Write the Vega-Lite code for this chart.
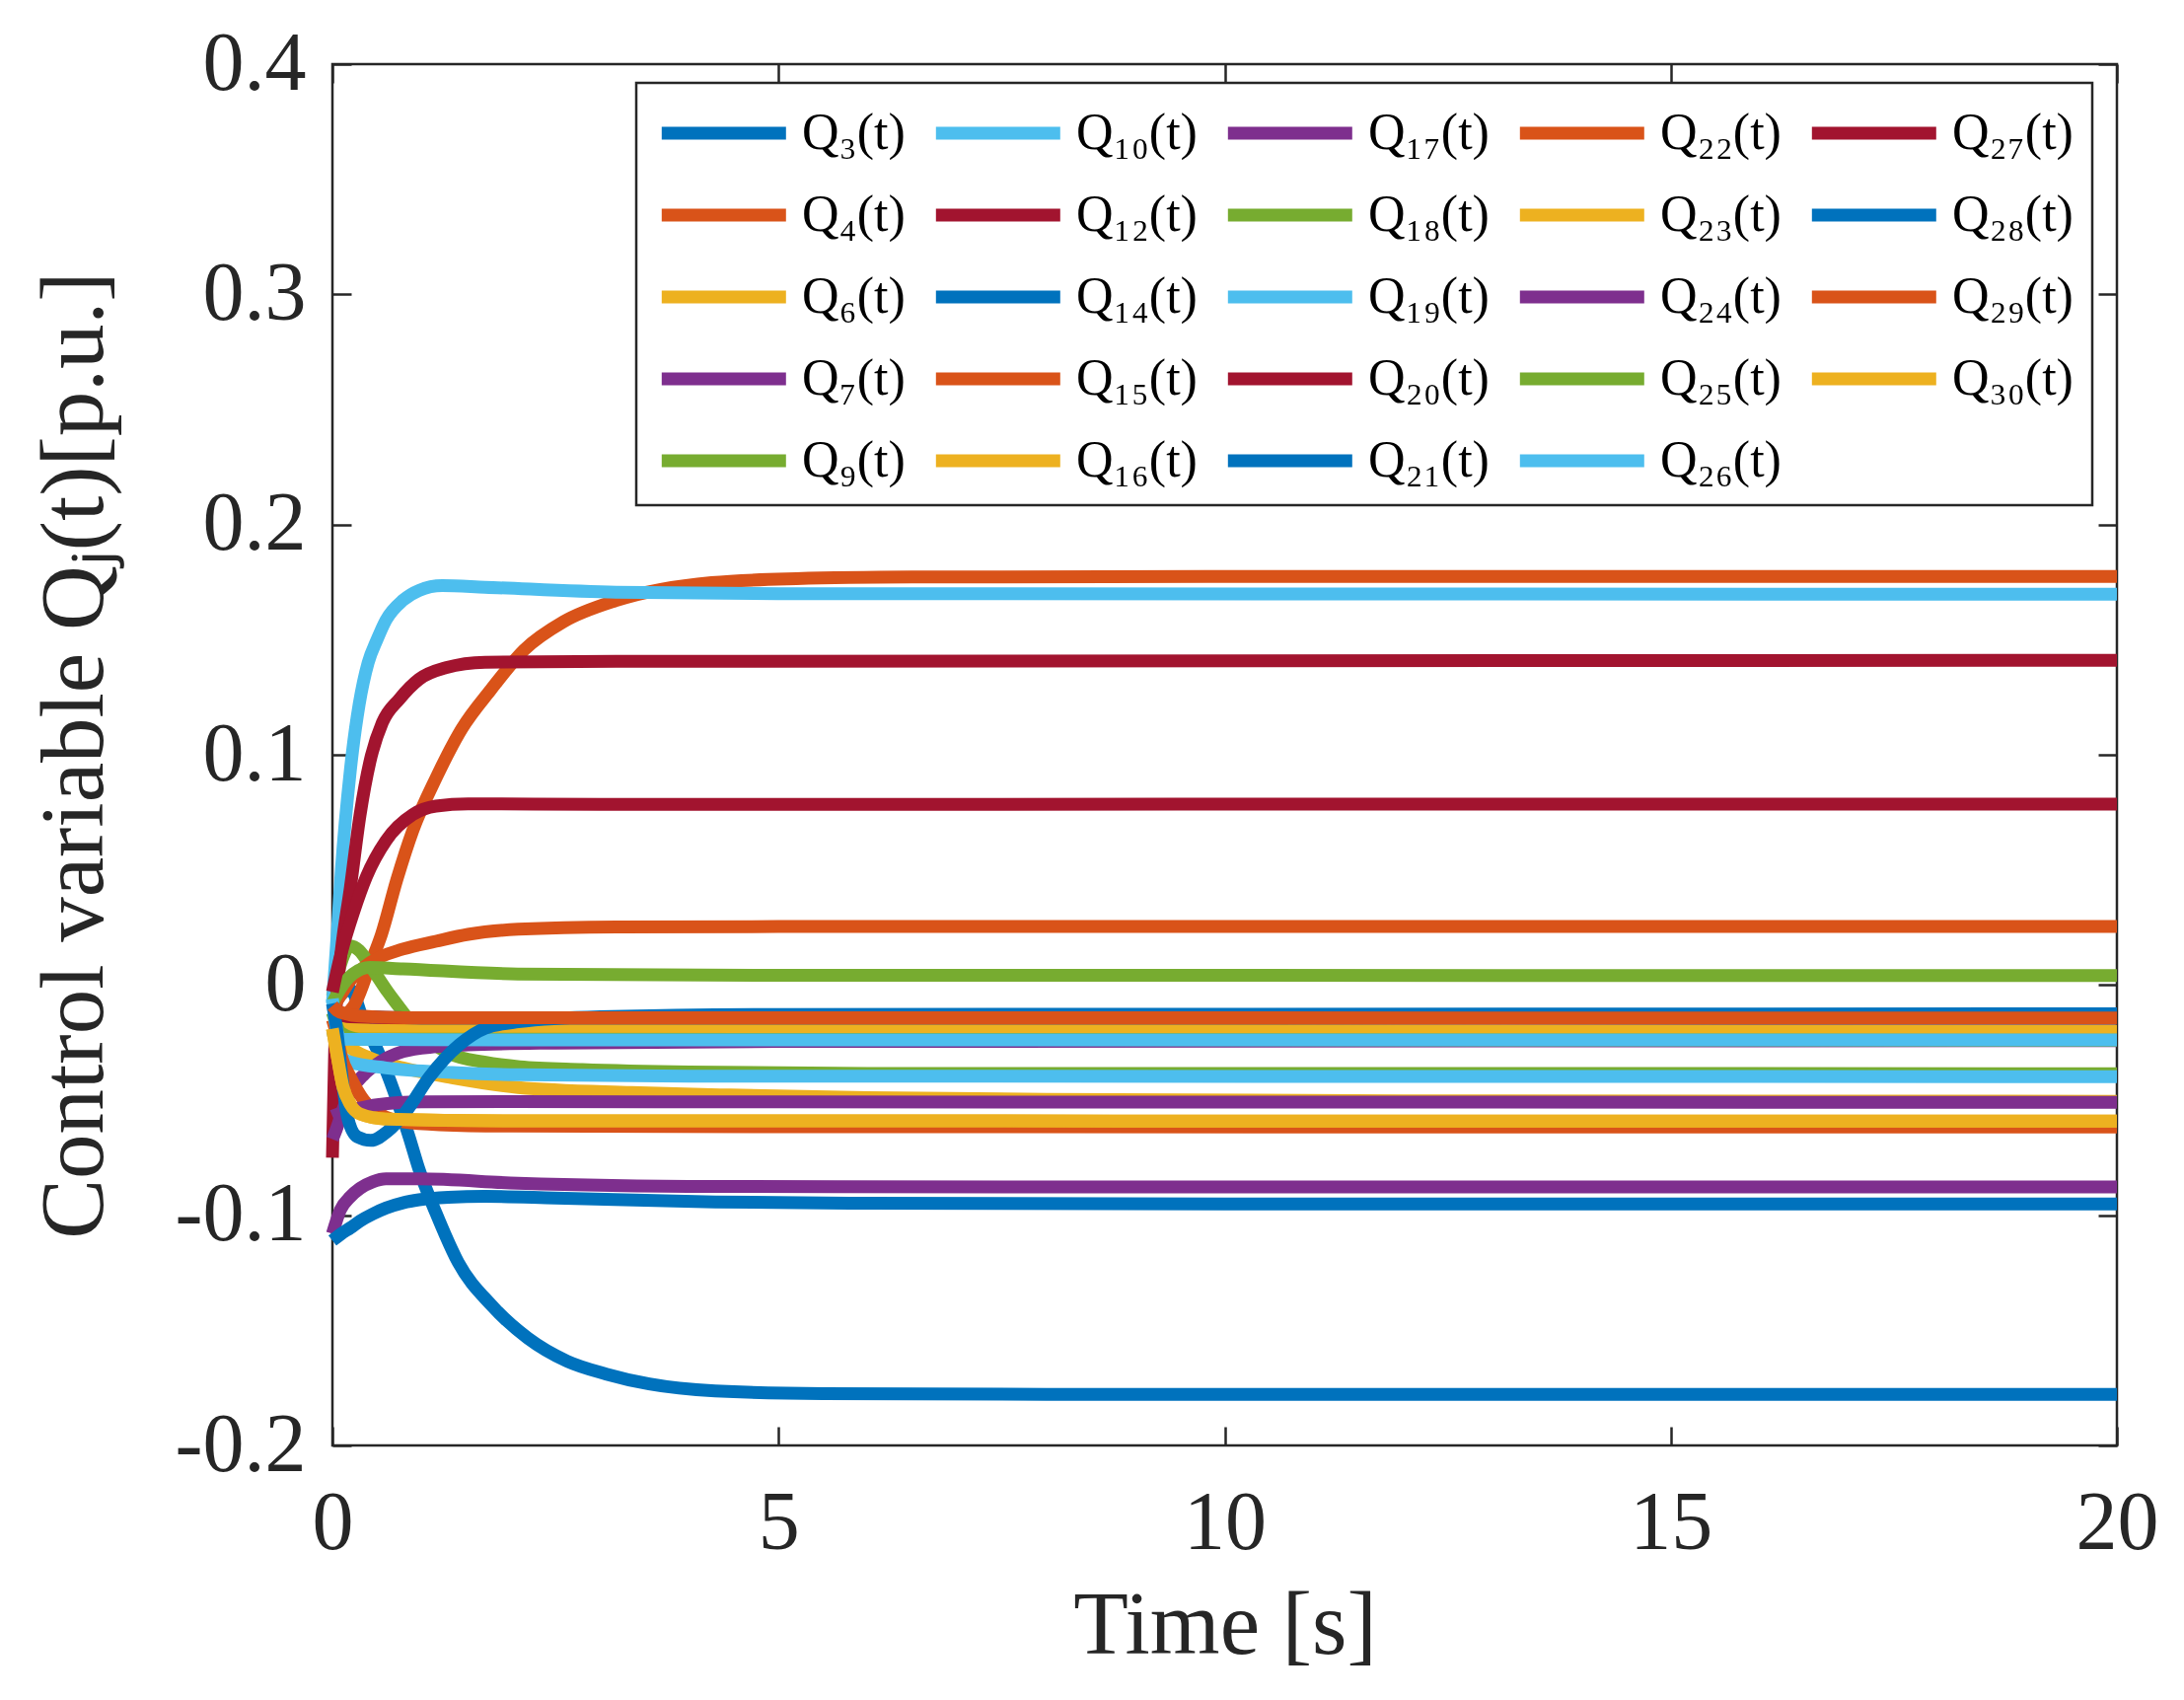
{
  "$schema": "https://vega.github.io/schema/vega-lite/v6.json",
  "width": 1809,
  "height": 1400,
  "autosize": {"type": "none"},
  "padding": {"left": 337, "top": 65, "right": 68, "bottom": 258},
  "background": "white",
  "data": {"values": [
    {"s":"Q₃(t)","t":0,"v":-0.01},{"s":"Q₃(t)","t":0.1,"v":-0.004},{"s":"Q₃(t)","t":0.2,"v":-0.002},{"s":"Q₃(t)","t":0.35,"v":-0.016},{"s":"Q₃(t)","t":0.5,"v":-0.028},{"s":"Q₃(t)","t":0.62,"v":-0.039},{"s":"Q₃(t)","t":0.75,"v":-0.053},{"s":"Q₃(t)","t":0.86,"v":-0.066},{"s":"Q₃(t)","t":0.97,"v":-0.08},{"s":"Q₃(t)","t":1.16,"v":-0.099},{"s":"Q₃(t)","t":1.41,"v":-0.1205},{"s":"Q₃(t)","t":1.78,"v":-0.139},{"s":"Q₃(t)","t":2.19,"v":-0.1534},{"s":"Q₃(t)","t":2.63,"v":-0.1634},{"s":"Q₃(t)","t":3.07,"v":-0.169},{"s":"Q₃(t)","t":3.55,"v":-0.1733},{"s":"Q₃(t)","t":4.29,"v":-0.1763},{"s":"Q₃(t)","t":5.5,"v":-0.1775},{"s":"Q₃(t)","t":8,"v":-0.1778},{"s":"Q₃(t)","t":20,"v":-0.1778},
    {"s":"Q₄(t)","t":0,"v":-0.012},{"s":"Q₄(t)","t":0.12,"v":-0.013},{"s":"Q₄(t)","t":0.24,"v":-0.009},{"s":"Q₄(t)","t":0.43,"v":0.0096},{"s":"Q₄(t)","t":0.55,"v":0.022},{"s":"Q₄(t)","t":0.72,"v":0.0455},{"s":"Q₄(t)","t":0.9,"v":0.067},{"s":"Q₄(t)","t":1.16,"v":0.0898},{"s":"Q₄(t)","t":1.45,"v":0.1113},{"s":"Q₄(t)","t":1.78,"v":0.1285},{"s":"Q₄(t)","t":2.15,"v":0.1456},{"s":"Q₄(t)","t":2.59,"v":0.1578},{"s":"Q₄(t)","t":3.18,"v":0.167},{"s":"Q₄(t)","t":4.25,"v":0.1748},{"s":"Q₄(t)","t":5.2,"v":0.1765},{"s":"Q₄(t)","t":6.5,"v":0.1772},{"s":"Q₄(t)","t":10,"v":0.1775},{"s":"Q₄(t)","t":20,"v":0.1775},
    {"s":"Q₆(t)","t":0,"v":-0.019},{"s":"Q₆(t)","t":0.05,"v":-0.021},{"s":"Q₆(t)","t":0.12,"v":-0.0246},{"s":"Q₆(t)","t":0.25,"v":-0.0285},{"s":"Q₆(t)","t":0.42,"v":-0.0317},{"s":"Q₆(t)","t":0.79,"v":-0.036},{"s":"Q₆(t)","t":1.34,"v":-0.0403},{"s":"Q₆(t)","t":2.08,"v":-0.0445},{"s":"Q₆(t)","t":3.35,"v":-0.0467},{"s":"Q₆(t)","t":4.46,"v":-0.0478},{"s":"Q₆(t)","t":6,"v":-0.0489},{"s":"Q₆(t)","t":8,"v":-0.0497},{"s":"Q₆(t)","t":12,"v":-0.0503},{"s":"Q₆(t)","t":20,"v":-0.0505},
    {"s":"Q₇(t)","t":0,"v":-0.108},{"s":"Q₇(t)","t":0.09,"v":-0.0976},{"s":"Q₇(t)","t":0.2,"v":-0.092},{"s":"Q₇(t)","t":0.31,"v":-0.0883},{"s":"Q₇(t)","t":0.45,"v":-0.0855},{"s":"Q₇(t)","t":0.6,"v":-0.0842},{"s":"Q₇(t)","t":0.97,"v":-0.0842},{"s":"Q₇(t)","t":2.08,"v":-0.0861},{"s":"Q₇(t)","t":4.29,"v":-0.0875},{"s":"Q₇(t)","t":8,"v":-0.0877},{"s":"Q₇(t)","t":20,"v":-0.0877},
    {"s":"Q₉(t)","t":0,"v":-0.005},{"s":"Q₉(t)","t":0.1,"v":0.01},{"s":"Q₉(t)","t":0.2,"v":0.017},{"s":"Q₉(t)","t":0.3,"v":0.015},{"s":"Q₉(t)","t":0.43,"v":0.008},{"s":"Q₉(t)","t":0.62,"v":-0.003},{"s":"Q₉(t)","t":0.76,"v":-0.0102},{"s":"Q₉(t)","t":0.97,"v":-0.0203},{"s":"Q₉(t)","t":1.3,"v":-0.0295},{"s":"Q₉(t)","t":1.7,"v":-0.0335},{"s":"Q₉(t)","t":2.1,"v":-0.0355},{"s":"Q₉(t)","t":2.8,"v":-0.0367},{"s":"Q₉(t)","t":4,"v":-0.0378},{"s":"Q₉(t)","t":6,"v":-0.0384},{"s":"Q₉(t)","t":20,"v":-0.0385},
    {"s":"Q₁₀(t)","t":0,"v":-0.008},{"s":"Q₁₀(t)","t":0.05,"v":0.02},{"s":"Q₁₀(t)","t":0.1,"v":0.05},{"s":"Q₁₀(t)","t":0.2,"v":0.093},{"s":"Q₁₀(t)","t":0.3,"v":0.122},{"s":"Q₁₀(t)","t":0.4,"v":0.14},{"s":"Q₁₀(t)","t":0.5,"v":0.15},{"s":"Q₁₀(t)","t":0.6,"v":0.1585},{"s":"Q₁₀(t)","t":0.79,"v":0.1671},{"s":"Q₁₀(t)","t":0.97,"v":0.1714},{"s":"Q₁₀(t)","t":1.23,"v":0.1735},{"s":"Q₁₀(t)","t":1.71,"v":0.1728},{"s":"Q₁₀(t)","t":3.18,"v":0.1706},{"s":"Q₁₀(t)","t":5,"v":0.17},{"s":"Q₁₀(t)","t":20,"v":0.1697},
    {"s":"Q₁₂(t)","t":0,"v":-0.075},{"s":"Q₁₂(t)","t":0.03,"v":-0.02},{"s":"Q₁₂(t)","t":0.06,"v":0.0},{"s":"Q₁₂(t)","t":0.1,"v":0.015},{"s":"Q₁₂(t)","t":0.2,"v":0.042},{"s":"Q₁₂(t)","t":0.31,"v":0.074},{"s":"Q₁₂(t)","t":0.42,"v":0.097},{"s":"Q₁₂(t)","t":0.56,"v":0.114},{"s":"Q₁₂(t)","t":0.75,"v":0.1242},{"s":"Q₁₂(t)","t":0.97,"v":0.1328},{"s":"Q₁₂(t)","t":1.27,"v":0.1378},{"s":"Q₁₂(t)","t":1.71,"v":0.1402},{"s":"Q₁₂(t)","t":3.18,"v":0.1406},{"s":"Q₁₂(t)","t":20,"v":0.141},
    {"s":"Q₁₄(t)","t":0,"v":-0.111},{"s":"Q₁₄(t)","t":0.1,"v":-0.108},{"s":"Q₁₄(t)","t":0.2,"v":-0.1055},{"s":"Q₁₄(t)","t":0.31,"v":-0.1025},{"s":"Q₁₄(t)","t":0.45,"v":-0.0995},{"s":"Q₁₄(t)","t":0.6,"v":-0.0969},{"s":"Q₁₄(t)","t":0.8,"v":-0.0945},{"s":"Q₁₄(t)","t":0.97,"v":-0.0933},{"s":"Q₁₄(t)","t":1.3,"v":-0.0922},{"s":"Q₁₄(t)","t":1.71,"v":-0.0918},{"s":"Q₁₄(t)","t":2.5,"v":-0.0925},{"s":"Q₁₄(t)","t":4.29,"v":-0.0942},{"s":"Q₁₄(t)","t":6,"v":-0.0948},{"s":"Q₁₄(t)","t":10,"v":-0.0951},{"s":"Q₁₄(t)","t":20,"v":-0.0951},
    {"s":"Q₁₅(t)","t":0,"v":-0.01},{"s":"Q₁₅(t)","t":0.1,"v":-0.004},{"s":"Q₁₅(t)","t":0.2,"v":0.002},{"s":"Q₁₅(t)","t":0.3,"v":0.006},{"s":"Q₁₅(t)","t":0.42,"v":0.0097},{"s":"Q₁₅(t)","t":0.79,"v":0.0156},{"s":"Q₁₅(t)","t":1.16,"v":0.019},{"s":"Q₁₅(t)","t":1.52,"v":0.022},{"s":"Q₁₅(t)","t":2.08,"v":0.0242},{"s":"Q₁₅(t)","t":3.18,"v":0.0252},{"s":"Q₁₅(t)","t":5,"v":0.0254},{"s":"Q₁₅(t)","t":20,"v":0.0254},
    {"s":"Q₁₆(t)","t":0,"v":-0.017},{"s":"Q₁₆(t)","t":0.1,"v":-0.0185},{"s":"Q₁₆(t)","t":0.5,"v":-0.0195},{"s":"Q₁₆(t)","t":20,"v":-0.02},
    {"s":"Q₁₇(t)","t":0,"v":-0.067},{"s":"Q₁₇(t)","t":0.05,"v":-0.062},{"s":"Q₁₇(t)","t":0.1,"v":-0.056},{"s":"Q₁₇(t)","t":0.23,"v":-0.0446},{"s":"Q₁₇(t)","t":0.35,"v":-0.039},{"s":"Q₁₇(t)","t":0.49,"v":-0.0346},{"s":"Q₁₇(t)","t":0.62,"v":-0.0315},{"s":"Q₁₇(t)","t":0.79,"v":-0.0289},{"s":"Q₁₇(t)","t":1.16,"v":-0.0268},{"s":"Q₁₇(t)","t":1.52,"v":-0.026},{"s":"Q₁₇(t)","t":2.5,"v":-0.0252},{"s":"Q₁₇(t)","t":5,"v":-0.0245},{"s":"Q₁₇(t)","t":20,"v":-0.0242},
    {"s":"Q₁₈(t)","t":0,"v":-0.008},{"s":"Q₁₈(t)","t":0.09,"v":-0.0016},{"s":"Q₁₈(t)","t":0.23,"v":0.0048},{"s":"Q₁₈(t)","t":0.42,"v":0.0076},{"s":"Q₁₈(t)","t":0.79,"v":0.007},{"s":"Q₁₈(t)","t":2.08,"v":0.0048},{"s":"Q₁₈(t)","t":5,"v":0.0042},{"s":"Q₁₈(t)","t":20,"v":0.0041},
    {"s":"Q₁₉(t)","t":0,"v":-0.02},{"s":"Q₁₉(t)","t":0.1,"v":-0.031},{"s":"Q₁₉(t)","t":0.2,"v":-0.0335},{"s":"Q₁₉(t)","t":0.6,"v":-0.036},{"s":"Q₁₉(t)","t":1.34,"v":-0.038},{"s":"Q₁₉(t)","t":2.1,"v":-0.039},{"s":"Q₁₉(t)","t":4,"v":-0.0396},{"s":"Q₁₉(t)","t":20,"v":-0.0398},
    {"s":"Q₂₀(t)","t":0,"v":-0.003},{"s":"Q₂₀(t)","t":0.05,"v":0.006},{"s":"Q₂₀(t)","t":0.1,"v":0.014},{"s":"Q₂₀(t)","t":0.24,"v":0.032},{"s":"Q₂₀(t)","t":0.38,"v":0.047},{"s":"Q₂₀(t)","t":0.6,"v":0.0627},{"s":"Q₂₀(t)","t":0.9,"v":0.074},{"s":"Q₂₀(t)","t":1.16,"v":0.0777},{"s":"Q₂₀(t)","t":1.52,"v":0.0787},{"s":"Q₂₀(t)","t":3,"v":0.0785},{"s":"Q₂₀(t)","t":20,"v":0.0786},
    {"s":"Q₂₁(t)","t":0,"v":-0.011},{"s":"Q₂₁(t)","t":0.2,"v":-0.0135},{"s":"Q₂₁(t)","t":1,"v":-0.0143},{"s":"Q₂₁(t)","t":20,"v":-0.0144},
    {"s":"Q₂₂(t)","t":0,"v":-0.015},{"s":"Q₂₂(t)","t":0.05,"v":-0.022},{"s":"Q₂₂(t)","t":0.1,"v":-0.031},{"s":"Q₂₂(t)","t":0.2,"v":-0.04},{"s":"Q₂₂(t)","t":0.35,"v":-0.05},{"s":"Q₂₂(t)","t":0.53,"v":-0.056},{"s":"Q₂₂(t)","t":0.8,"v":-0.0595},{"s":"Q₂₂(t)","t":1.2,"v":-0.0607},{"s":"Q₂₂(t)","t":2,"v":-0.0613},{"s":"Q₂₂(t)","t":5,"v":-0.0616},{"s":"Q₂₂(t)","t":20,"v":-0.0617},
    {"s":"Q₂₃(t)","t":0,"v":-0.019},{"s":"Q₂₃(t)","t":0.05,"v":-0.03},{"s":"Q₂₃(t)","t":0.12,"v":-0.0445},{"s":"Q₂₃(t)","t":0.2,"v":-0.0518},{"s":"Q₂₃(t)","t":0.31,"v":-0.056},{"s":"Q₂₃(t)","t":0.6,"v":-0.0582},{"s":"Q₂₃(t)","t":2,"v":-0.059},{"s":"Q₂₃(t)","t":20,"v":-0.0591},
    {"s":"Q₂₄(t)","t":0,"v":-0.057},{"s":"Q₂₄(t)","t":0.1,"v":-0.0555},{"s":"Q₂₄(t)","t":0.25,"v":-0.054},{"s":"Q₂₄(t)","t":0.5,"v":-0.052},{"s":"Q₂₄(t)","t":1,"v":-0.0508},{"s":"Q₂₄(t)","t":2,"v":-0.0506},{"s":"Q₂₄(t)","t":5,"v":-0.0508},{"s":"Q₂₄(t)","t":20,"v":-0.051},
    {"s":"Q₂₅(t)","t":0,"v":-0.012},{"s":"Q₂₅(t)","t":0.1,"v":-0.021},{"s":"Q₂₅(t)","t":0.3,"v":-0.0235},{"s":"Q₂₅(t)","t":20,"v":-0.024},
    {"s":"Q₂₆(t)","t":0,"v":-0.006},{"s":"Q₂₆(t)","t":0.05,"v":-0.02},{"s":"Q₂₆(t)","t":0.1,"v":-0.0235},{"s":"Q₂₆(t)","t":1,"v":-0.0238},{"s":"Q₂₆(t)","t":20,"v":-0.0239},
    {"s":"Q₂₇(t)","t":0,"v":-0.012},{"s":"Q₂₇(t)","t":0.2,"v":-0.0138},{"s":"Q₂₇(t)","t":1,"v":-0.0143},{"s":"Q₂₇(t)","t":20,"v":-0.0143},
    {"s":"Q₂₈(t)","t":0,"v":-0.008},{"s":"Q₂₈(t)","t":0.05,"v":-0.02},{"s":"Q₂₈(t)","t":0.1,"v":-0.0375},{"s":"Q₂₈(t)","t":0.17,"v":-0.0575},{"s":"Q₂₈(t)","t":0.28,"v":-0.066},{"s":"Q₂₈(t)","t":0.43,"v":-0.0675},{"s":"Q₂₈(t)","t":0.62,"v":-0.0635},{"s":"Q₂₈(t)","t":0.83,"v":-0.0547},{"s":"Q₂₈(t)","t":1.08,"v":-0.0403},{"s":"Q₂₈(t)","t":1.42,"v":-0.026},{"s":"Q₂₈(t)","t":1.71,"v":-0.0188},{"s":"Q₂₈(t)","t":2.08,"v":-0.016},{"s":"Q₂₈(t)","t":3,"v":-0.0138},{"s":"Q₂₈(t)","t":5,"v":-0.0128},{"s":"Q₂₈(t)","t":20,"v":-0.0125},
    {"s":"Q₂₉(t)","t":0,"v":-0.009},{"s":"Q₂₉(t)","t":0.05,"v":-0.011},{"s":"Q₂₉(t)","t":0.15,"v":-0.0125},{"s":"Q₂₉(t)","t":0.3,"v":-0.0135},{"s":"Q₂₉(t)","t":0.8,"v":-0.0142},{"s":"Q₂₉(t)","t":20,"v":-0.0143},
    {"s":"Q₃₀(t)","t":0,"v":-0.019},{"s":"Q₃₀(t)","t":0.05,"v":-0.03},{"s":"Q₃₀(t)","t":0.12,"v":-0.0445},{"s":"Q₃₀(t)","t":0.2,"v":-0.0518},{"s":"Q₃₀(t)","t":0.31,"v":-0.056},{"s":"Q₃₀(t)","t":0.6,"v":-0.0582},{"s":"Q₃₀(t)","t":2,"v":-0.059},{"s":"Q₃₀(t)","t":20,"v":-0.0591}
  ]},
  "layer": [
    {
      "mark": {"type": "line", "strokeWidth": 13, "interpolate": "monotone", "strokeJoin": "round"},
      "encoding": {
        "x": {"field": "t", "type": "quantitative",
          "scale": {"domain": [0, 20], "nice": false, "zero": false},
          "axis": {"orient": "bottom", "values": [0, 5, 10, 15, 20], "format": "d", "tickSize": -19, "labelPadding": 57, "labelFlush": false, "labelOverlap": false, "domain": false, "grid": false,
            "title": "Time [s]", "titleY": 210, "titleBaseline": "alphabetic", "titleAlign": "center"}},
        "y": {"field": "v", "type": "quantitative",
          "scale": {"domain": [-0.2, 0.4], "nice": false, "zero": false},
          "axis": {"orient": "left", "values": [-0.2, -0.1, 0, 0.1, 0.2, 0.3, 0.4], "labelExpr": "datum.value === 0 ? '0' : (datum.value < 0 ? '-' + format(-datum.value, '.1f') : format(datum.value, '.1f'))", "tickSize": -19, "labelPadding": 46, "labelFlush": false, "labelOverlap": false, "domain": false, "grid": false,
            "title": "Control variable Qⱼ(t)[p.u.]", "titleX": -234, "titleY": 700, "titleAngle": -90, "titleAlign": "center", "titleBaseline": "alphabetic"}},
        "color": {"field": "s", "type": "nominal",
          "scale": {
            "domain": ["Q₃(t)","Q₄(t)","Q₆(t)","Q₇(t)","Q₉(t)","Q₁₀(t)","Q₁₂(t)","Q₁₄(t)","Q₁₅(t)","Q₁₆(t)","Q₁₇(t)","Q₁₈(t)","Q₁₉(t)","Q₂₀(t)","Q₂₁(t)","Q₂₂(t)","Q₂₃(t)","Q₂₄(t)","Q₂₅(t)","Q₂₆(t)","Q₂₇(t)","Q₂₈(t)","Q₂₉(t)","Q₃₀(t)"],
            "range": ["#0072BD","#D95319","#EDB120","#7E2F8E","#77AC30","#4DBEEE","#A2142F","#0072BD","#D95319","#EDB120","#7E2F8E","#77AC30","#4DBEEE","#A2142F","#0072BD","#D95319","#EDB120","#7E2F8E","#77AC30","#4DBEEE","#A2142F","#0072BD","#D95319","#EDB120"]},
          "legend": {"title": null, "orient": "none", "legendX": 308, "legendY": 19, "columns": 5, "symbolType": "M-1,0H4", "symbolSize": 2540, "symbolStrokeWidth": 13, "labelOffset": 85, "labelFontSize": 52, "labelLimit": 400, "columnPadding": 4, "rowPadding": 25, "padding": 19, "strokeColor": "#262626", "fillColor": "white"}}
      }
    },
    {
      "mark": {"type": "point", "opacity": 0},
      "encoding": {
        "x": {"field": "t", "type": "quantitative",
          "axis": {"orient": "top", "values": [0, 5, 10, 15, 20], "labels": false, "tickSize": -19, "domain": false, "grid": false, "title": null}},
        "y": {"field": "v", "type": "quantitative",
          "axis": {"orient": "right", "values": [-0.2, -0.1, 0, 0.1, 0.2, 0.3, 0.4], "labels": false, "tickSize": -19, "domain": false, "grid": false, "title": null}}
      }
    }
  ],
  "resolve": {"axis": {"x": "independent", "y": "independent"}},
  "config": {
    "font": "Liberation Serif",
    "view": {"stroke": "#262626", "strokeWidth": 2.5},
    "axis": {"labelFont": "Liberation Serif", "titleFont": "Liberation Serif", "labelFontSize": 84, "titleFontSize": 91, "labelColor": "#262626", "titleColor": "#262626", "tickColor": "#262626", "tickWidth": 2.5, "titleFontWeight": "normal", "labelFontWeight": "normal"},
    "legend": {"labelFont": "Liberation Serif", "labelColor": "#000000", "strokeWidth": 2.5}
  }
}
